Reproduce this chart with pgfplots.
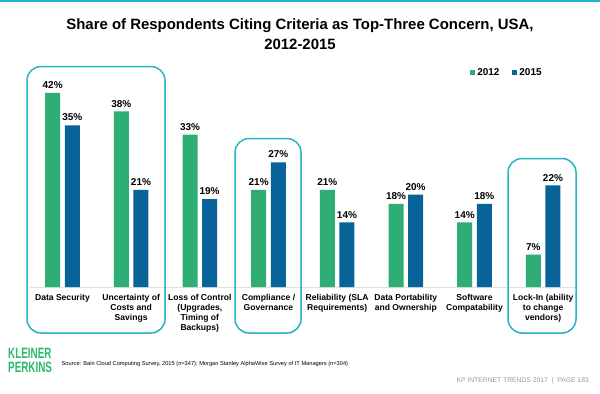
\documentclass[border=0pt]{standalone}
\usepackage{fontspec}
\setmainfont{Liberation Sans}
\usepackage{graphicx}
\usepackage{pgfplots}
\pgfplotsset{compat=1.18}
\definecolor{cgreen}{RGB}{46,173,116}
\definecolor{cblue}{RGB}{8,99,153}
\definecolor{cteal}{RGB}{35,180,200}
\definecolor{kpgreen}{RGB}{45,184,110}
\begin{document}
\begin{tikzpicture}
\path[use as bounding box] (0,0) rectangle (600bp,-394bp);
\fill[white] (0,0) rectangle (600bp,-394bp);
\draw[cteal, line width=2bp] (0,-1bp) -- (600bp,-1bp);
\node[font=\bfseries\fontsize{15}{20}\selectfont, align=center] at (300bp,-34bp) {Share of Respondents Citing Criteria as Top-Three Concern, USA,\\2012-2015};
\begin{axis}[
  scale only axis,
  width=548bp, height=207.9bp,
  at={(29.5bp,-287bp)}, anchor=south west,
  xmin=-0.48, xmax=7.5, ymin=0, ymax=45,
  ybar,
  /pgf/number format/assume math mode=true,
  axis x line=bottom, axis y line=none,
  axis line style={-, draw=black!12, line width=0.8bp},
  xtick={0,...,7}, major tick length=0pt,
  xticklabels={{Data Security},{Uncertainty of\\Costs and\\Savings},{Loss of Control\\(Upgrades,\\Timing of\\Backups)},{Compliance /\\Governance},{Reliability (SLA\\Requirements)},{Data Portability\\and Ownership},{Software\\Compatability},{Lock-In (ability\\to change\\vendors)}},
  x tick label style={font=\bfseries\fontsize{8.6}{10}\selectfont, align=center, inner sep=0pt, yshift=-7bp},
  bar width=15bp,
  nodes near coords={\pgfmathprintnumber{\pgfplotspointmeta}\%},
  every node near coord/.append style={font=\bfseries\fontsize{10}{10}\selectfont, inner sep=1bp, yshift=3bp, text=black},
  legend columns=2,
  legend style={at={(0.804,1.03)}, anchor=west, draw=none, fill=none, font=\bfseries\fontsize{10}{10}\selectfont, /tikz/every even column/.append style={column sep=11bp}, inner sep=0pt},
  legend image code/.code={\fill[#1] (0bp,-2.5bp) rectangle (5bp,2.5bp);},
]
\addplot[fill=cgreen, draw=none, bar shift=-9.8bp] coordinates {(0,42) (1,38) (2,33) (3,21) (4,21) (5,18) (6,14) (7,7)};
\addplot[fill=cblue, draw=none, bar shift=9.8bp] coordinates {(0,35) (1,21) (2,19) (3,27) (4,14) (5,20) (6,18) (7,22)};
\legend{2012,2015}
\end{axis}
\begin{scope}[cteal, line width=1.5bp, rounded corners=14bp]
\draw (27bp,-66.5bp) rectangle (165bp,-333bp);
\draw (235bp,-138.5bp) rectangle (301bp,-333bp);
\draw (508bp,-158.5bp) rectangle (576bp,-333bp);
\end{scope}
\node[anchor=base west, text=kpgreen, font=\bfseries\fontsize{15}{14}\selectfont, inner sep=0pt, align=left] at (8bp,-372bp) {\scalebox{0.66}[1]{KLEINER}\\\scalebox{0.66}[1]{PERKINS}};
\node[anchor=west, inner sep=0pt, font=\fontsize{5.7}{6}\selectfont] at (61.5bp,-364bp) {Source: Bain Cloud Computing Survey, 2015 (n=347); Morgan Stanley AlphaWise Survey of IT Managers (n=304)};
\node[anchor=east, inner sep=0pt, text=black!40, font=\fontsize{6.8}{7}\selectfont] at (589bp,-381bp) {KP INTERNET TRENDS 2017~~|~~PAGE 183};
\end{tikzpicture}
\end{document}
